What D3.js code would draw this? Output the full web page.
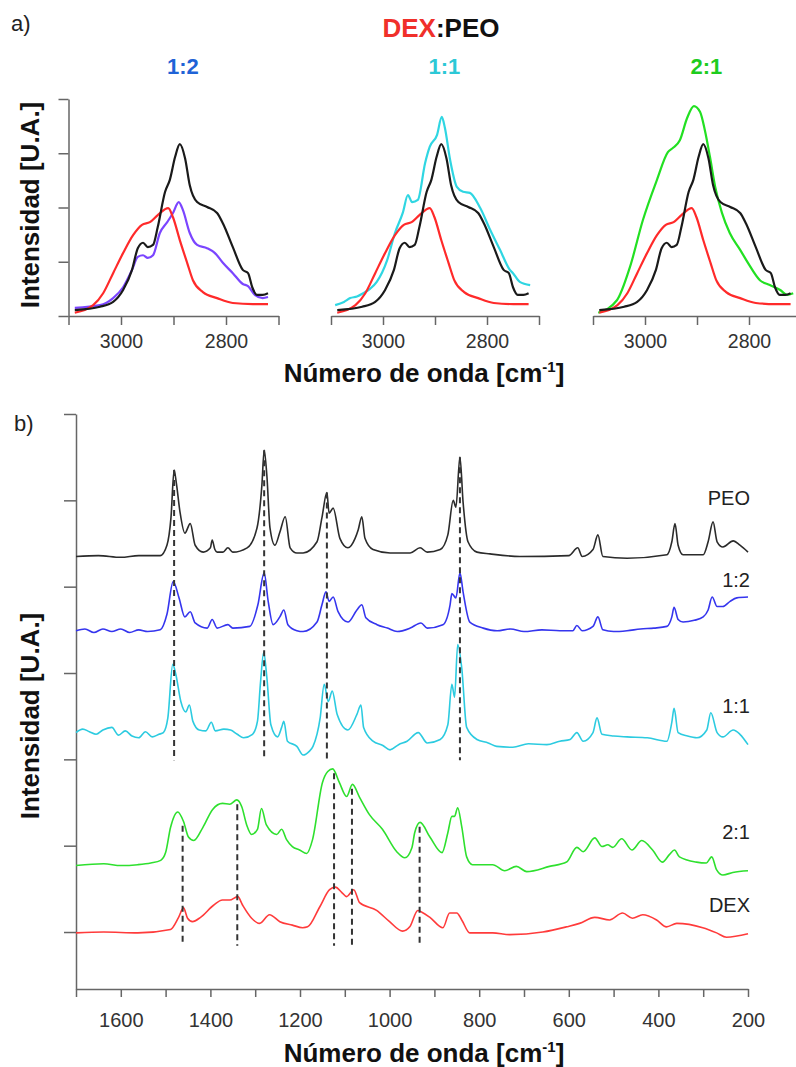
<!DOCTYPE html>
<html>
<head>
<meta charset="utf-8">
<script src="https://cdn.jsdelivr.net/npm/d3@7"></script>
<style>
body { margin: 0; background: #fff; }
svg { display: block; font-family: "Liberation Sans", Arial, sans-serif; }
</style>
</head>
<body>
<svg width="796" height="1067"></svg>
<script>
// a) C-H stretching region, [wavenumber, intensity]
var peoCH = [[3088,0.11],[3040,0.17],[3015,0.26],[2996,0.48],[2979,0.85],[2968,1.25],[2958,1.35],[2949,1.27],[2939,1.31],[2930,1.64],[2916,2.29],[2907,2.51],[2897,2.93],[2888,3.17],[2878,2.91],[2869,2.41],[2855,2.10],[2836,2.01],[2817,1.90],[2806,1.71],[2787,1.27],[2768,0.85],[2758,0.79],[2750,0.53],[2741,0.39],[2730,0.39],[2720,0.42]];
var dexCH = [[3088,0.06],[3053,0.20],[3034,0.42],[3015,0.79],[2996,1.16],[2977,1.49],[2960,1.68],[2945,1.73],[2930,1.86],[2910,1.99],[2901,1.82],[2888,1.40],[2874,0.98],[2863,0.66],[2844,0.44],[2817,0.33],[2787,0.24],[2749,0.22],[2720,0.22]];
var mix12CH = [[3088,0.15],[3040,0.20],[3015,0.33],[2996,0.53],[2979,0.85],[2968,1.09],[2958,1.12],[2949,1.07],[2939,1.12],[2926,1.53],[2912,1.73],[2901,1.90],[2890,2.10],[2882,1.95],[2869,1.53],[2855,1.31],[2836,1.25],[2821,1.16],[2806,0.98],[2787,0.79],[2768,0.59],[2758,0.55],[2745,0.39],[2730,0.33],[2720,0.35]];
var mix11CH = [[3092,0.20],[3075,0.26],[3063,0.33],[3050,0.36],[3038,0.42],[3025,0.50],[3012,0.63],[2992,1.03],[2977,1.53],[2962,1.90],[2952,2.23],[2944,2.10],[2933,2.14],[2919,2.82],[2910,3.12],[2896,3.34],[2887,3.67],[2881,3.47],[2871,2.88],[2858,2.38],[2846,2.29],[2833,2.27],[2813,1.99],[2794,1.59],[2775,1.22],[2756,0.85],[2750,0.79],[2737,0.63],[2717,0.57]];
var mix21CH = [[3090,0.06],[3054,0.29],[3029,0.90],[3004,1.77],[2977,2.51],[2956,3.02],[2946,3.10],[2933,3.24],[2919,3.65],[2906,3.87],[2894,3.76],[2885,3.43],[2875,2.93],[2865,2.38],[2852,1.90],[2837,1.53],[2817,1.22],[2802,0.98],[2779,0.66],[2760,0.57],[2740,0.48],[2727,0.39],[2715,0.42]];

var ratioLabels = ['1:2', '1:1', '2:1'];
var mixCH = [mix12CH, mix11CH, mix21CH];
var xTicksA = [3100, 3000, 2900, 2800, 2700];
var xLabelsA = [3000, 2800];
var yTicksA = [0, 1, 2, 3, 4];

// b) full spectra, [wavenumber, intensity above own baseline]
var peo = [[1700,0],[1650,0.01],[1600,-0.01],[1560,0.01],[1512,0.01],[1497,0.13],[1488,0.45],[1481,1.00],[1476,0.85],[1468,0.52],[1457,0.27],[1445,0.38],[1434,0.13],[1416,0.05],[1400,0.10],[1396,0.19],[1390,0.08],[1385,0.05],[1372,0.05],[1361,0.10],[1350,0.05],[1318,0.10],[1296,0.33],[1285,0.83],[1280,1.23],[1274,0.94],[1267,0.33],[1256,0.13],[1245,0.28],[1233,0.46],[1222,0.10],[1207,0.04],[1193,0.04],[1162,0.17],[1151,0.45],[1140,0.74],[1135,0.50],[1126,0.56],[1111,0.21],[1093,0.10],[1077,0.21],[1070,0.31],[1062,0.46],[1055,0.21],[1037,0.08],[999,0.04],[954,0.04],[932,0.10],[916,0.05],[887,0.08],[870,0.25],[858,0.65],[852,0.57],[843,1.15],[836,0.63],[825,0.17],[805,0.05],[776,0.03],[709,0.0],[600,0.01],[580,0.10],[570,0.0],[546,0.08],[535,0.25],[524,0.0],[470,-0.02],[381,0.02],[370,0.17],[363,0.38],[356,0.13],[345,0.02],[300,0.02],[289,0.17],[278,0.40],[269,0.17],[256,0.11],[233,0.18],[218,0.13],[200,0.05]];
var mix12 = [[1700,0],[1680,0.02],[1660,-0.02],[1640,0.02],[1620,-0.01],[1600,0.02],[1580,-0.02],[1560,0.01],[1540,-0.01],[1512,0.01],[1497,0.19],[1483,0.57],[1470,0.38],[1457,0.16],[1445,0.22],[1434,0.09],[1407,0.03],[1396,0.13],[1385,0.03],[1361,0.07],[1350,0.03],[1312,0.05],[1294,0.30],[1280,0.67],[1271,0.34],[1260,0.07],[1245,0.16],[1236,0.24],[1227,0.07],[1207,0.0],[1193,-0.01],[1162,0.10],[1151,0.30],[1142,0.45],[1135,0.34],[1126,0.39],[1115,0.22],[1093,0.10],[1073,0.24],[1062,0.30],[1053,0.15],[1028,0.07],[1005,0.03],[983,-0.01],[954,0.03],[930,0.09],[916,0.03],[881,0.07],[865,0.30],[861,0.43],[852,0.38],[843,0.67],[836,0.45],[821,0.10],[791,0.03],[760,0.0],[730,0.02],[700,-0.01],[660,0.01],[620,0],[591,0],[582,0.06],[570,0],[546,0.05],[535,0.16],[524,0.01],[500,-0.01],[470,0],[440,0.02],[410,0.03],[381,0.05],[370,0.16],[365,0.27],[356,0.13],[345,0.10],[320,0.12],[300,0.16],[289,0.24],[280,0.39],[269,0.28],[256,0.28],[240,0.34],[225,0.38],[200,0.39]];
var mix11 = [[1700,0],[1685,0.04],[1670,0.01],[1655,-0.02],[1640,0.03],[1620,0.06],[1605,-0.03],[1590,0.02],[1575,-0.04],[1560,-0.06],[1545,0.01],[1530,-0.05],[1515,-0.02],[1505,0],[1495,0.17],[1484,0.79],[1477,0.67],[1466,0.36],[1455,0.24],[1447,0.32],[1439,0.13],[1425,0.03],[1410,0.02],[1398,0.12],[1389,0.02],[1370,0.04],[1355,0.03],[1340,-0.02],[1326,-0.06],[1306,-0.02],[1295,0.13],[1288,0.59],[1281,0.93],[1274,0.64],[1265,0.09],[1250,-0.05],[1241,0.06],[1236,0.13],[1228,-0.10],[1207,-0.16],[1193,-0.26],[1180,-0.22],[1171,-0.16],[1155,0.17],[1146,0.56],[1137,0.36],[1128,0.48],[1117,0.21],[1093,0.03],[1073,0.21],[1064,0.32],[1058,0.06],[1037,-0.10],[1015,-0.15],[999,-0.20],[980,-0.14],[961,-0.10],[936,0.0],[916,-0.12],[887,-0.08],[870,0.09],[861,0.56],[855,0.41],[848,1.02],[839,0.75],[828,0.06],[805,-0.08],[780,-0.12],[761,-0.16],[725,-0.17],[690,-0.13],[649,-0.14],[620,-0.10],[597,-0.08],[582,0],[568,-0.10],[546,0],[537,0.17],[526,-0.02],[500,-0.04],[470,-0.05],[425,-0.06],[381,-0.10],[370,0.12],[365,0.28],[356,0],[335,-0.04],[314,-0.06],[292,0.03],[283,0.23],[269,0],[256,-0.05],[233,0.03],[218,-0.02],[200,-0.14]];
var mix21 = [[1700,-0.01],[1638,0.01],[1600,-0.01],[1562,0],[1533,0.02],[1511,0.05],[1500,0.14],[1489,0.43],[1473,0.61],[1460,0.50],[1449,0.32],[1437,0.28],[1417,0.43],[1395,0.64],[1373,0.71],[1357,0.70],[1341,0.75],[1330,0.67],[1319,0.46],[1308,0.35],[1295,0.41],[1286,0.65],[1275,0.46],[1252,0.35],[1241,0.41],[1230,0.29],[1217,0.21],[1201,0.17],[1185,0.13],[1172,0.29],[1150,0.95],[1138,1.08],[1127,1.11],[1112,0.95],[1096,0.79],[1083,0.93],[1067,0.78],[1045,0.58],[1016,0.41],[984,0.15],[966,0.08],[950,0.20],[944,0.37],[932,0.49],[910,0.32],[883,0.14],[870,0.37],[861,0.56],[855,0.56],[848,0.66],[839,0.44],[828,0.09],[815,0],[770,0],[743,-0.07],[717,-0.02],[694,-0.08],[643,-0.02],[605,0.03],[582,0.20],[568,0.15],[542,0.31],[526,0.21],[513,0.23],[502,0.20],[482,0.30],[459,0.17],[437,0.28],[413,0.17],[391,0.03],[375,0.12],[364,0.17],[353,0.09],[315,0.03],[293,0.02],[281,0.09],[270,-0.06],[256,-0.12],[234,-0.09],[200,-0.07]];
var dex = [[1700,-0.01],[1638,0],[1562,-0.01],[1489,0.03],[1471,0.17],[1460,0.28],[1451,0.16],[1440,0.12],[1422,0.17],[1393,0.31],[1373,0.37],[1357,0.37],[1339,0.41],[1328,0.31],[1308,0.16],[1290,0.10],[1268,0.20],[1245,0.12],[1217,0.08],[1194,0.05],[1183,0.06],[1156,0.29],[1134,0.49],[1121,0.52],[1107,0.46],[1096,0.41],[1080,0.49],[1067,0.34],[1029,0.25],[1000,0.12],[971,0.01],[955,0.06],[937,0.25],[928,0.23],[910,0.17],[881,0.05],[866,0.22],[850,0.22],[839,0.14],[821,-0.01],[770,-0.01],[732,-0.03],[658,0],[605,0.06],[576,0.10],[542,0.17],[509,0.14],[480,0.22],[458,0.16],[435,0.20],[404,0.14],[382,0.06],[359,0.10],[301,0.05],[270,-0.01],[248,-0.06],[200,-0.02]];

var seriesNames = ['PEO', '1:2', '1:1', '2:1', 'DEX'];
var offsets = [4.35, 3.49, 2.31, 0.78, 0];
var peoBands = [1481, 1280, 1140, 843];
var dexBands = [1462, 1340, 1124, 1084, 933];
var xTicksB = d3.range(1700, 199, -100);
var xLabelsB = [1600, 1400, 1200, 1000, 800, 600, 400, 200];
var yTicksB = [0, 1, 2, 3, 4, 5, 6];

var svg = d3.select('svg');
var axisColor = '#666';
var textColor = '#333';

// ---------- panel a ----------
var colorsA = ['#7b45ff', '#2fd6e2', '#22e022'];
var titleColors = ['#1f63d6', '#2cc8d6', '#1ecc1e'];
var rangesA = [[68.5, 278.5], [331, 539], [593, 801]];
var yA = d3.scaleLinear().domain([0, 4]).range([316, 99]);

svg.append('text').attr('x', 11).attr('y', 31)
    .style('font-size', '22px').attr('fill', '#222').text('a)');

var t = svg.append('text').attr('x', 441).attr('y', 37).attr('text-anchor', 'middle')
    .style('font-size', '26px').style('font-weight', 'bold');
t.append('tspan').attr('fill', '#f0302a').text('DEX');
t.append('tspan').attr('fill', '#111').text(':PEO');

rangesA.forEach(function(r, i) {
    var x = d3.scaleLinear().domain([3100, 2700]).range(r);
    var g = svg.append('g');

    var ax = g.append('g').attr('transform', 'translate(0,316)')
        .call(d3.axisBottom(x).tickValues(xTicksA).tickSize(9).tickSizeOuter(0)
            .tickFormat(function(d) { return xLabelsA.indexOf(d) >= 0 ? d : ''; }));
    ax.selectAll('path, line').attr('stroke', axisColor).attr('stroke-width', 1.5);
    ax.selectAll('text').attr('y', 32).attr('dy', 0).attr('fill', textColor)
        .style('font-size', '19.5px').style('font-family', '"Liberation Sans", Arial, sans-serif');

    if (i == 0) {
        var ay = g.append('g').attr('transform', 'translate(' + r[0] + ',0)')
            .call(d3.axisLeft(yA).tickValues(yTicksA).tickSize(10).tickSizeOuter(0).tickFormat(''));
        ay.selectAll('path, line').attr('stroke', axisColor).attr('stroke-width', 1.5);
    }

    var line = d3.line()
        .x(function(d) { return x(d[0]); })
        .y(function(d) { return yA(d[1]); })
        .curve(d3.curveMonotoneX);

    [[mixCH[i], colorsA[i]], [dexCH, '#ff2a2a'], [peoCH, '#1a1a1a']].forEach(function(s) {
        g.append('path').datum(s[0]).attr('d', line)
            .attr('fill', 'none').attr('stroke', s[1]).attr('stroke-width', 2.2)
            .attr('stroke-linejoin', 'round');
    });

    g.append('text').attr('x', x(2882)).attr('y', 74).attr('text-anchor', 'middle')
        .style('font-size', '22px').style('font-weight', 'bold')
        .attr('fill', titleColors[i]).text(ratioLabels[i]);
});

function yTitle(yc) {
    svg.append('text')
        .attr('transform', 'translate(0,' + yc + ') rotate(-90)')
        .attr('x', 0).attr('y', 39).attr('text-anchor', 'middle')
        .style('font-size', '26px').style('font-weight', 'bold').attr('fill', '#111')
        .text('Intensidad [U.A.]');
}
yTitle(205);

function xTitle(yPos) {
    var tx = svg.append('text').attr('x', 424).attr('y', yPos).attr('text-anchor', 'middle')
        .style('font-size', '26px').style('font-weight', 'bold').attr('fill', '#111');
    tx.append('tspan').text('Número de onda [cm');
    tx.append('tspan').attr('dy', -10).style('font-size', '15px').text('-1');
    tx.append('tspan').attr('dy', 10).text(']');
}
xTitle(382);

// ---------- panel b ----------
var colorsB = ['#2b2b2b', '#3535ee', '#2ccbe0', '#2ee02e', '#ff3b3b'];
var labelLift = [51, 44, 20, 26, 20];
var xB = d3.scaleLinear().domain([1700, 200]).range([76, 748]);
var yB = d3.scaleLinear().domain([-0.66, 6]).range([989, 414]);
var specB = [peo, mix12, mix11, mix21, dex];

svg.append('text').attr('x', 14).attr('y', 431)
    .style('font-size', '22px').attr('fill', '#222').text('b)');

var bx = svg.append('g').attr('transform', 'translate(0,989)')
    .call(d3.axisBottom(xB).tickValues(xTicksB).tickSize(8).tickSizeOuter(0)
        .tickFormat(function(d) { return xLabelsB.indexOf(d) >= 0 ? d : ''; }));
bx.selectAll('path, line').attr('stroke', axisColor).attr('stroke-width', 1.5);
bx.selectAll('text').attr('y', 38).attr('dy', 0).attr('fill', textColor)
    .style('font-size', '20px').style('font-family', '"Liberation Sans", Arial, sans-serif');

var by = svg.append('g').attr('transform', 'translate(76,0)')
    .call(d3.axisLeft(yB).tickValues(yTicksB).tickSize(12).tickSizeOuter(0).tickFormat(''));
by.selectAll('path, line').attr('stroke', axisColor).attr('stroke-width', 1.5);

specB.forEach(function(s, i) {
    var line = d3.line()
        .x(function(d) { return xB(d[0]); })
        .y(function(d) { return yB(d[1] + offsets[i]); })
        .curve(d3.curveMonotoneX);
    svg.append('path').datum(s).attr('d', line)
        .attr('fill', 'none').attr('stroke', colorsB[i]).attr('stroke-width', 1.6)
        .attr('stroke-linejoin', 'round');
    svg.append('text').attr('x', 750).attr('y', yB(offsets[i]) - labelLift[i])
        .attr('text-anchor', 'end').style('font-size', '20px').attr('fill', '#222')
        .text(seriesNames[i]);
});

function valueAt(s, w) {
    var best = s[0];
    s.forEach(function(d) { if (Math.abs(d[0] - w) < Math.abs(best[0] - w)) best = d; });
    return best[1];
}

var bands = peoBands.map(function(w) { return [w, valueAt(peo, w) + offsets[0], 1.99]; })
    .concat(dexBands.map(function(w) { return [w, valueAt(mix21, w) + offsets[3] - 0.05, -0.16]; }));
svg.selectAll('.band').data(bands).enter().append('line')
    .attr('class', 'band')
    .attr('x1', function(d) { return xB(d[0]); })
    .attr('x2', function(d) { return xB(d[0]); })
    .attr('y1', function(d) { return yB(d[1]); })
    .attr('y2', function(d) { return yB(d[2]); })
    .attr('stroke', '#333').attr('stroke-width', 2).attr('stroke-dasharray', '6,4');

yTitle(716);
xTitle(1062);
</script>
</body>
</html>
